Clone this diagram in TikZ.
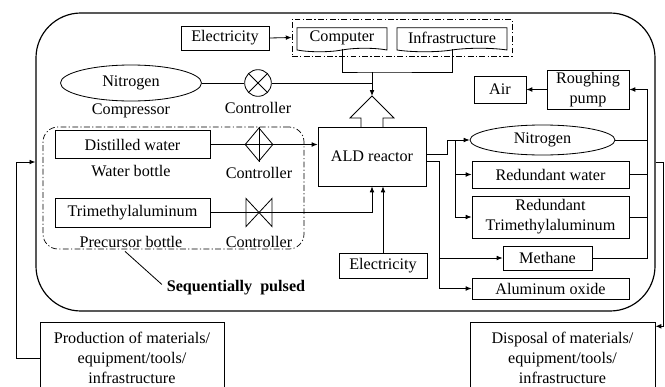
\documentclass[tikz,border=0pt]{standalone}
\usepackage{fontspec}
\setmainfont{Liberation Serif}
\usepackage{tikz}
\usetikzlibrary{positioning, shapes.geometric, shapes.symbols, arrows.meta, calc}

\begin{document}
\begin{tikzpicture}[
  x=0.03cm, y=-0.03cm,
  font=\fontsize{13.8}{17}\selectfont,
  box/.style={draw, line width=0.7pt, inner sep=1pt, align=center},
  doc/.style={tape, tape bend top=none, tape bend height=3pt, draw, line width=0.7pt, inner sep=1pt},
  tank/.style={ellipse, draw, line width=0.7pt, inner sep=0pt},
  valve/.style={draw, line width=0.7pt, inner sep=0pt},
  group/.style={draw, line width=0.6pt, dash pattern=on 5pt off 2pt on 1pt off 2pt},
  tag/.style={inner sep=0pt},
  pipe/.style={line width=0.7pt},
  arrow/.style={-{Latex[length=5pt, width=4pt]}, line width=0.7pt},
]
\useasboundingbox (0,0) rectangle (665,386);
\clip (0,0) rectangle (665,386);

\node[draw, line width=1pt, rounded corners=1.35cm, minimum width=18.57cm, minimum height=8.94cm] (system) at (345.5,162) {};

\node[box, minimum width=2.64cm, minimum height=0.72cm] (elec1) at (225,38) {Electricity};
\node[group, minimum width=6.6cm, minimum height=1.11cm] (ctrlgrp) at (402,37.5) {};
\node[doc, minimum width=2.7cm, minimum height=0.72cm] (comp) at (342,38) {Computer};
\node[doc, minimum width=3.3cm, minimum height=0.72cm] (infra) at (452,38) {Infrastructure};

\node[tank, minimum width=4.23cm, minimum height=1.08cm] (n2left) at (131,83) {Nitrogen};
\node[tag] (comprlbl) at (131,111) {Compressor};
\node[valve, circle, minimum size=0.8cm] (v1) at (258,83) {};
\node[tag] (ctrl1) at (258,108) {Controller};

\node[group, rounded corners=0.45cm, minimum width=7.83cm, minimum height=3.66cm] (pulsegrp) at (173.5,188) {};
\node[box, minimum width=4.65cm, minimum height=0.84cm] (dwater) at (132.5,144.5) {Distilled water};
\node[tag] (wbottle) at (131,171) {Water bottle};
\node[valve, diamond, minimum width=0.84cm, minimum height=1.0cm] (v2) at (259,144.5) {};
\node[tag] (ctrl2) at (259,173) {Controller};
\node[box, minimum width=4.65cm, minimum height=0.87cm] (tma) at (132.5,212.5) {Trimethylaluminum};
\node[tag] (pbottle) at (131,242) {Precursor bottle};
\coordinate (v3) at (259,212.5);
\node[tag] (ctrl3) at (259,242) {Controller};
\node[tag, font=\fontsize{13.8}{17}\selectfont\bfseries] (pulselbl) at (236,288) {Sequentially\enspace pulsed};

\node[box, minimum width=3.24cm, minimum height=1.77cm] (ald) at (372,156.5) {ALD reactor};
\coordinate (inlet) at (372,96);
\coordinate (merge) at (372,72);
\node[box, minimum width=2.64cm, minimum height=0.75cm] (elec2) at (383,265.5) {Electricity};

\node[box, minimum width=1.56cm, minimum height=0.81cm] (air) at (500,89.5) {Air};
\node[box, minimum width=2.46cm, minimum height=1.17cm] (pump) at (588,89.5) {Roughing\\pump};
\node[tank, minimum width=4.35cm, minimum height=0.9cm] (n2right) at (542.5,140) {Nitrogen};
\node[box, minimum width=4.71cm, minimum height=0.81cm] (rwater) at (550.5,174.5) {Redundant water};
\node[box, minimum width=4.71cm, minimum height=1.26cm] (rtma) at (550.5,217) {Redundant\\Trimethylaluminum};
\node[box, minimum width=2.67cm, minimum height=0.72cm] (methane) at (547.5,258) {Methane};
\node[box, minimum width=4.71cm, minimum height=0.63cm] (alox) at (550.5,288.5) {Aluminum oxide};
\coordinate (split) at (455,140);
\coordinate (drain) at (439,258);
\coordinate (collect) at ($(pump.east)+(18,0)$);

\node[box, minimum width=5.52cm, minimum height=2.16cm] (prod) at (132,358) {Production of materials/\\equipment/tools/\\infrastructure};
\node[box, minimum width=5.55cm, minimum height=2.16cm] (disp) at (562.5,358) {Disposal of materials/\\equipment/tools/\\infrastructure};

\draw[valve] (v1.north west) -- (v1.south east) (v1.north east) -- (v1.south west);
\draw[valve] (v2.north) -- (v2.south);
\draw[valve] ($(v3)+(-13,-14)$) -- ($(v3)+(13,14)$) -- ($(v3)+(13,-14)$) -- ($(v3)+(-13,14)$) -- cycle;
\draw[pipe] ($(inlet)+(-11,31)$) -- ++(0,-9) -- ++(-11,0) -- (inlet) -- ++(22,22) -- ++(-11,0) -- ++(0,9);

\draw[arrow] (elec1.east) -- (ctrlgrp.west);
\draw[pipe] (comp.south) |- (merge) -| (infra.south);
\draw[arrow] (merge) -- (inlet);
\draw[pipe] (n2left.east) -- (v1.west);
\draw[pipe] (v1.east) -- (v1.east -| merge);
\draw[arrow] (dwater.east) -- (dwater.east -| ald.west);
\draw[arrow] (tma.east) -| (ald.south);
\draw[arrow] (elec2.north) -- (elec2.north |- ald.south);
\draw[pipe] ($(pulsegrp.south)+(-48.5,2)$) -- ([xshift=-4pt, yshift=3pt]pulselbl.west);

\draw[arrow] ([yshift=2pt]ald.east) -- ++(21,0) |- (n2right.west);
\draw[arrow] (split) |- (rwater.west);
\draw[arrow] (split) |- (rtma.west);
\draw[arrow] ([yshift=-4pt]ald.east) -- ++(13,0) |- (alox.west);
\draw[arrow] (drain) -- (methane.west);
\draw[arrow] (methane.east) -| (collect) -- (pump.east);
\draw[pipe] (n2right.east) -- (n2right.east -| collect);
\draw[pipe] (rwater.east) -- (rwater.east -| collect);
\draw[pipe] (rtma.east) -- (rtma.east -| collect);
\draw[arrow] (pump.west) -- (air.east);

\draw[arrow] (prod.west) -- ++(-23,0) |- (system.west);
\draw[arrow] (system.east) -- ++(8,0) |- ([yshift=-4pt]disp.north east);
\end{tikzpicture}
\end{document}
